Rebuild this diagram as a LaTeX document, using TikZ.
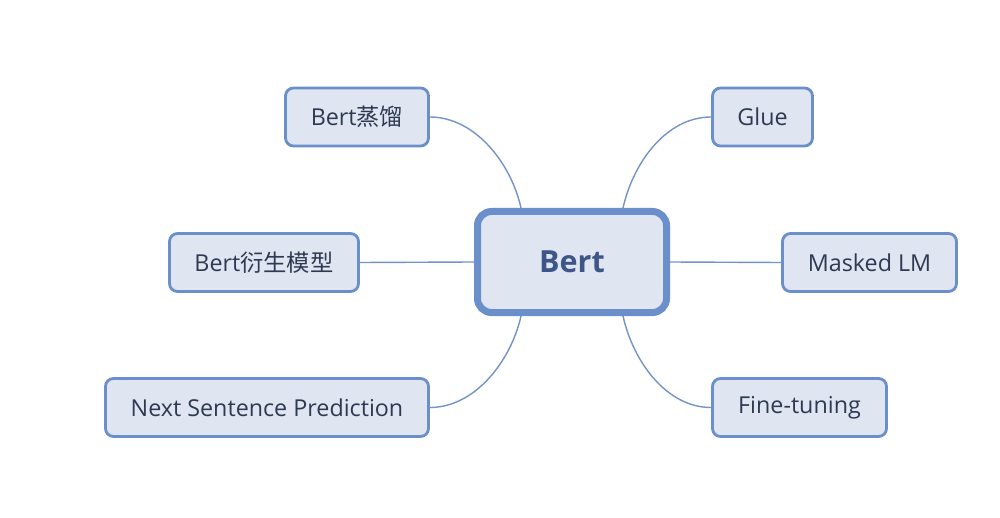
\documentclass[tikz,border=0pt]{standalone}
\usepackage{fontspec}
\setmainfont{Open Sans}
\newfontfamily\cjk{Noto Sans CJK SC}
\usetikzlibrary{calc,backgrounds}
\definecolor{nodefill}{HTML}{DFE5F1}
\definecolor{nodeborder}{HTML}{6B8FCB}
\definecolor{linkcol}{HTML}{7393C9}
\definecolor{leaftext}{HTML}{2E3A52}
\definecolor{roottext}{HTML}{3E5687}
\begin{document}
\begin{tikzpicture}[x=1pt,y=-1pt,
  leaf/.style={draw=nodeborder,fill=nodefill,line width=2.8pt,rounded corners=8pt,
    minimum height=58pt,inner sep=0pt,text=leaftext,font=\fontsize{23.3}{26}\selectfont},
  root/.style={draw=nodeborder,fill=nodefill,line width=7pt,rounded corners=14pt,
    minimum width=189pt,minimum height=101pt,inner sep=0pt,text=roottext,
    font=\fontsize{30.5}{34}\selectfont\bfseries},
  link/.style={draw=linkcol,line width=1.4pt}]
\useasboundingbox (0,0) rectangle (1000,518);
\node[root] (c) at (572,262) {Bert};
\node[leaf,minimum width=143pt] (l1) at (357,117) {Bert{\cjk 蒸馏}};
\node[leaf,minimum width=100pt] (r1) at (762.5,117) {Glue};
\node[leaf,minimum width=189pt] (l2) at (264,262.5) {Bert{\cjk 衍生模型}};
\node[leaf,minimum width=174pt] (r2) at (869.5,262.5) {Masked LM};
\node[leaf,minimum width=323pt] (l3) at (267,407.5) {Next Sentence Prediction};
\node[leaf,minimum width=174pt] (r3) at (799.5,407.5) {Fine-tuning};
\coordinate (ctl) at ([xshift=47pt]c.north west);
\coordinate (ctr) at ([xshift=-47pt]c.north east);
\coordinate (cbl) at ([xshift=47pt]c.south west);
\coordinate (cbr) at ([xshift=-47pt]c.south east);
\begin{scope}[on background layer]
\draw[link] (l1.east) .. controls +(45,0) and +(-10,-45) .. (ctl);
\draw[link] (r1.west) .. controls +(-45,0) and +(10,-45) .. (ctr);
\draw[link] (l3.east) .. controls +(45,0) and +(-10,45) .. (cbl);
\draw[link] (r3.west) .. controls +(-45,0) and +(10,45) .. (cbr);
\draw[link] (l2.east) -- (c.west);
\draw[link] (r2.west) -- (c.east);
\end{scope}
\end{tikzpicture}
\end{document}
